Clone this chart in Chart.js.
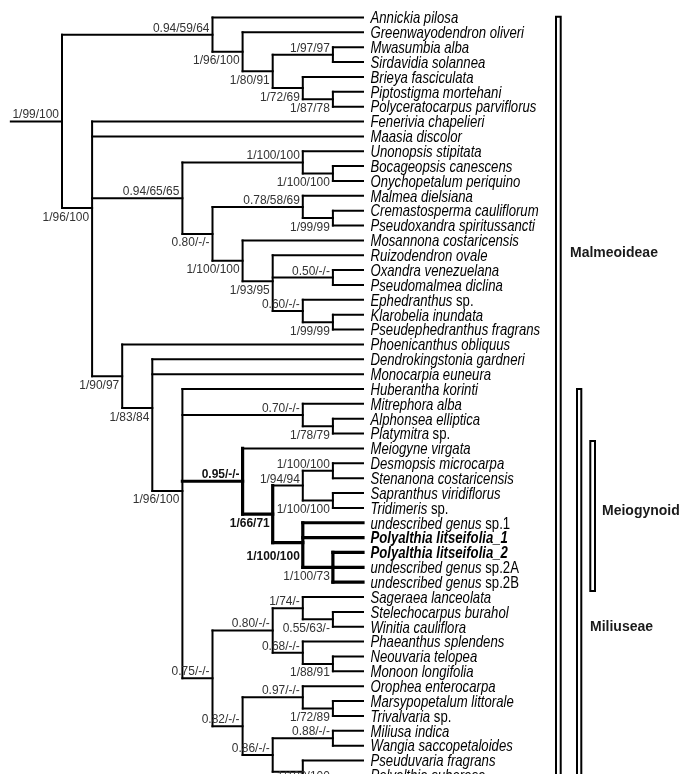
<!DOCTYPE html>
<html><head><meta charset="utf-8">
<script src="https://cdn.jsdelivr.net/npm/chart.js@4"></script>
<style>html,body{margin:0;padding:0;background:#fff;overflow:hidden}#wrap{width:689px;height:774px;position:relative}</style>
</head><body><div id="wrap"><canvas id="c" width="689" height="774"></canvas></div>
<script>
// ---------- DATA ----------
const taxa = [
  'Annickia pilosa','Greenwayodendron oliveri','Mwasumbia alba','Sirdavidia solannea','Brieya fasciculata',
  'Piptostigma mortehani','Polyceratocarpus parviflorus','Fenerivia chapelieri','Maasia discolor','Unonopsis stipitata',
  'Bocageopsis canescens','Onychopetalum periquino','Malmea dielsiana','Cremastosperma cauliflorum','Pseudoxandra spiritussancti',
  'Mosannona costaricensis','Ruizodendron ovale','Oxandra venezuelana','Pseudomalmea diclina','Ephedranthus sp.',
  'Klarobelia inundata','Pseudephedranthus fragrans','Phoenicanthus obliquus','Dendrokingstonia gardneri','Monocarpia euneura',
  'Huberantha korinti','Mitrephora alba','Alphonsea elliptica','Platymitra sp.','Meiogyne virgata',
  'Desmopsis microcarpa','Stenanona costaricensis','Sapranthus viridiflorus','Tridimeris sp.','undescribed genus sp.1',
  'Polyalthia litseifolia_1','Polyalthia litseifolia_2','undescribed genus sp.2A','undescribed genus sp.2B','Sageraea lanceolata',
  'Stelechocarpus burahol','Winitia cauliflora','Phaeanthus splendens','Neouvaria telopea','Monoon longifolia',
  'Orophea enterocarpa','Marsypopetalum littorale','Trivalvaria sp.','Miliusa indica','Wangia saccopetaloides',
  'Pseuduvaria fragrans','Polyalthia suberosa',''
];
// topology (tips = taxon index), node label = support (PP/MLBS/MPBS), ":n" = node depth level
const treeNewick =
 "((0,(1,((2,3)1/97/97:9,(4,(5,6)1/87/78:9)1/72/69:8)1/80/91:7)1/96/100:6)0.94/59/64:5," +
 "(7,8,((9,(10,11)1/100/100:9)1/100/100:8,((12,(13,14)1/99/99:9)0.78/58/69:8," +
 "(15,(16,(17,18)0.50/-/-:9,(19,(20,21)1/99/99:9)0.60/-/-:8)1/93/95:7)1/100/100:6)0.80/-/-:5)0.94/65/65:4," +
 "(22,(23,24,(25,(26,(27,28)1/78/79:9)0.70/-/-:8," +
 "(29,(((30,31)1/100/100:9,(32,33)1/100/100:9)1/94/94:8,(34,35,(36,37,38)1/100/73:9)1/100/100:8)1/66/71:7)0.95/-/-:6," +
 "(((39,(40,41)0.55/63/-:9)1/74/-:8,(42,(43,44)1/88/91:9)0.68/-/-:8)0.80/-/-:7," +
 "((45,(46,47)1/72/89:9)0.97/-/-:8,((48,49)0.88/-/-:9,(50,(51,52)1/100/100:9):8)0.86/-/-:7)0.82/-/-:6)0.75/-/-:5)1/96/100:4)1/83/84:3)1/90/97:2)1/96/100:1)1/99/100:0";
const tipLevel = 10;
const rootStemLength = 1.7;
const groupNames = ['Malmeoideae','Miliuseae','Meiogynoid'];
const groupFirstTaxon = [0, 25, 29];
const groupLastTaxon = [52, 52, 38];
const highlightTaxa = [34,35,36,37,38];
const boldTaxa = [35,36];

// ---------- LAYOUT / STYLE ----------
const supportSide = "aabbabbbaa"+"bbabbbaabb"+"bbababaabB"+"baaababaab"+"aa-a";
const sideOffset = {a:-3, b:12.5, B:17};
const bracketX = [[556,560.7],[577,581.3],[590.3,595]];
const bracketPad = [[0.05,0],[0.0,0],[0.5,0.6]];
const groupLabelX = [570,590,602];
const groupLabelRow = [15.75,40.95,33.15];
const FONT = '"Liberation Sans", Arial, Helvetica, sans-serif';

// ---------- TREE PARSE ----------
function parseNewick(s){
  let i=0;
  function node(){
    if(s[i]==='('){
      i++; const kids=[];
      while(true){ kids.push(node()); if(s[i]===','){i++;continue;} if(s[i]===')'){i++;break;} }
      let label=''; while(i<s.length && !':,)'.includes(s[i])) label+=s[i++];
      let level=null;
      if(s[i]===':'){ i++; let num=''; while(i<s.length && !',)'.includes(s[i])) num+=s[i++]; level=parseFloat(num); }
      return {kids,label,level};
    }
    let t=''; while(i<s.length && !',)'.includes(s[i])) t+=s[i++];
    return {tip:parseInt(t,10)};
  }
  return node();
}
const root = parseNewick(treeNewick);
const internals = [];
function layout(n,parent){
  n.parent=parent;
  if(n.tip!==undefined){ n.x=tipLevel; n.y=n.tip; n.tips=[n.tip]; return; }
  internals.push(n);
  n.kids.forEach(k=>layout(k,n));
  n.x=n.level;
  n.y=n.kids.reduce((a,k)=>a+k.y,0)/n.kids.length;
  n.tips=[].concat(...n.kids.map(k=>k.tips));
}
layout(root,null);
internals.forEach((n,idx)=>{ n.side=supportSide[idx]||'-'; });

function mrca(list){
  let best=null;
  internals.forEach(n=>{ if(list.every(t=>n.tips.includes(t))){ if(!best||n.tips.length<best.tips.length) best=n; } });
  return best;
}
const hiNode = mrca(highlightTaxa);
const crownList=[]; for(let t=groupFirstTaxon[2]; t<=groupLastTaxon[2]; t++) crownList.push(t);
const crownNode = mrca(crownList);
function markAll(n){ n.thick=true; if(n.kids) n.kids.forEach(markAll); }
markAll(hiNode);
let p=hiNode; while(p){ p.thick=true; p.boldLabel=true; if(p===crownNode) break; p=p.parent; }

// ---------- SEGMENTS ----------
const segs=[];
function addSeg(x1,y1,x2,y2,thick){ segs.push({pts:[{x:x1,y:y1},{x:x2,y:y2}],thick}); }
addSeg(root.x-rootStemLength, root.y, root.x, root.y, false);
internals.forEach(n=>{
  const first=n.kids[0], last=n.kids[n.kids.length-1];
  addSeg(n.x, first.y, n.x, last.y, !!n.thick);
  n.kids.forEach(k=>addSeg(n.x, k.y, k.x, k.y, !!k.thick));
});
const datasets = segs.map(s=>({
  data:s.pts, showLine:true, pointRadius:0, borderColor:'#000',
  borderWidth:s.thick?3.2:2, borderCapStyle:'square', borderJoinStyle:'miter', fill:false
}));

// ---------- TEXT HELPERS ----------
function drawScaled(ctx,str,x,y,font,sx,align){
  ctx.font=font;
  const w=ctx.measureText(str).width*sx;
  const x0 = align==='right'? x-w : x;
  ctx.save(); ctx.translate(x0,y); ctx.scale(sx,1);
  ctx.textAlign='left'; ctx.textBaseline='alphabetic'; ctx.fillText(str,0,0); ctx.restore();
  return w;
}

const treePlugin = {
  id:'treeText',
  afterDatasetsDraw(chart){
    const ctx=chart.ctx, xs=chart.scales.x, ys=chart.scales.y;
    // tip labels
    const tipSX=0.797, tipSize=16.5;
    taxa.forEach((name,i)=>{
      if(!name) return;
      let x=xs.getPixelForValue(tipLevel)+7.5;
      const y=ys.getPixelForValue(i)+5.8;
      ctx.fillStyle='#000';
      const bold=boldTaxa.includes(i)?'bold ':'';
      const m=name.match(/^(.*?)( sp\..*)$/);
      if(m){
        x+=drawScaled(ctx,m[1],x,y,'italic '+bold+tipSize+'px '+FONT,tipSX,'left');
        drawScaled(ctx,m[2],x,y,bold+tipSize+'px '+FONT,tipSX,'left');
      } else {
        drawScaled(ctx,name,x,y,'italic '+bold+tipSize+'px '+FONT,tipSX,'left');
      }
    });
    // support values
    internals.forEach(n=>{
      if(!n.label || n.side==='-') return;
      const xr=xs.getPixelForValue(n.x)-3;
      const y=ys.getPixelForValue(n.y)+sideOffset[n.side];
      ctx.fillStyle= n.boldLabel ? '#111' : '#333';
      drawScaled(ctx,n.label,xr,y,(n.boldLabel?'bold ':'')+'13px '+FONT,0.92,'right');
    });
    // group brackets
    ctx.save();
    ctx.strokeStyle='#000'; ctx.lineWidth=2; ctx.lineJoin='miter';
    groupNames.forEach((g,i)=>{
      const yt=ys.getPixelForValue(groupFirstTaxon[i]-bracketPad[i][0]);
      const yb=ys.getPixelForValue(groupLastTaxon[i]+bracketPad[i][1]);
      const [xl,xr]=bracketX[i];
      ctx.beginPath(); ctx.moveTo(xl,yb); ctx.lineTo(xl,yt); ctx.lineTo(xr,yt); ctx.lineTo(xr,yb); ctx.closePath(); ctx.stroke();
      ctx.fillStyle='#1a1a1a';
      drawScaled(ctx,g,groupLabelX[i],ys.getPixelForValue(groupLabelRow[i])+5,'bold 14px '+FONT,1,'left');
    });
    ctx.restore();
  }
};

const rowPx = 14.86, row0Px = 17.5, levelPx = 30.1, level0Px = 62;
new Chart(document.getElementById('c'),{
  type:'scatter',
  data:{datasets},
  options:{
    responsive:false, animation:false, events:[],
    layout:{padding:0},
    plugins:{legend:{display:false},tooltip:{enabled:false},title:{display:false}},
    scales:{
      x:{type:'linear',display:false,min:-level0Px/levelPx,max:(689-level0Px)/levelPx},
      y:{type:'linear',display:false,reverse:true,min:-row0Px/rowPx,max:-row0Px/rowPx+774/rowPx}
    }
  },
  plugins:[treePlugin]
});
</script></body></html>
